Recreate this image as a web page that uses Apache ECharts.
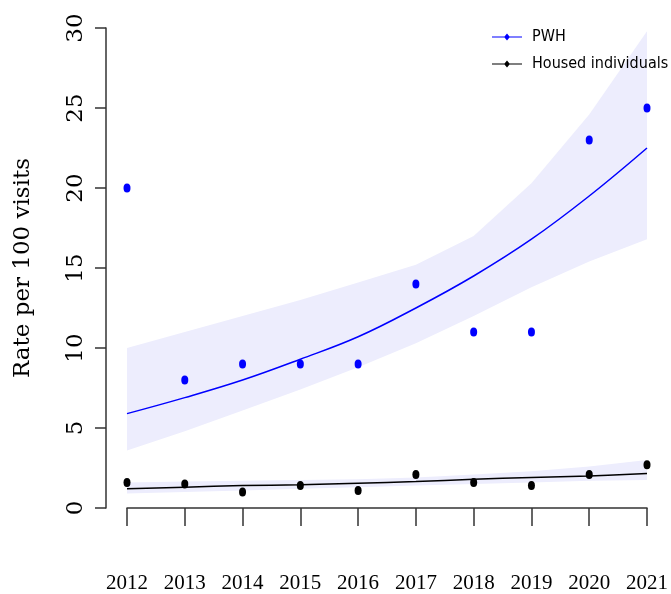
<!DOCTYPE html>
<html>
<head>
<meta charset="utf-8">
<script src="https://cdn.jsdelivr.net/npm/echarts@6/dist/echarts.min.js"></script>
<style>
  html, body { margin: 0; padding: 0; background: #fff; }
  #chart { width: 671px; height: 594px; }
</style>
</head>
<body>
<div id="chart"></div>
<script>
// Years on the x axis
const years = ['2012', '2013', '2014', '2015', '2016', '2017', '2018', '2019', '2020', '2021'];

// PWH: observed rates, fitted trend and its confidence band
const pwhObserved = [20, 8, 9, 9, 9, 14, 11, 11, 23, 25];
const pwhFit      = [5.9, 6.9, 8.0, 9.3, 10.7, 12.5, 14.5, 16.8, 19.5, 22.5];
const pwhLower    = [3.6, 4.8, 6.1, 7.4, 8.8, 10.3, 12.0, 13.8, 15.4, 16.8];
const pwhUpper    = [10.0, 11.0, 12.0, 13.0, 14.1, 15.2, 17.0, 20.3, 24.6, 29.8];

// Housed individuals: observed rates, fitted trend and its confidence band
const housedObserved = [1.6, 1.5, 1.0, 1.4, 1.1, 2.1, 1.6, 1.4, 2.1, 2.7];
const housedFit      = [1.2, 1.3, 1.4, 1.45, 1.55, 1.65, 1.8, 1.9, 2.0, 2.15];
const housedLower    = [0.9, 1.0, 1.1, 1.2, 1.3, 1.4, 1.5, 1.6, 1.7, 1.75];
const housedUpper    = [1.6, 1.65, 1.7, 1.75, 1.8, 1.9, 2.1, 2.3, 2.6, 3.0];

// Y axis range
const yMin = 0, yMax = 30, yStep = 5;

const BLUE = '#0000ff';
const BLACK = '#000000';
const BAND = '#ededfd';
const AXIS = '#333333';

// Legend key: a short line with a small diamond in the middle
const keyIcon = 'path://M0,4.4 L12.5,4.4 L15,1.5 L17.5,4.4 L30,4.4 L30,5.6 L17.5,5.6 L15,8.5 L12.5,5.6 L0,5.6 Z';

function bandSeries(id, lower, upper) {
  return [
    {
      type: 'line', name: id + '-lo', stack: id, data: lower,
      symbol: 'none', silent: true, z: 1,
      lineStyle: { opacity: 0 }
    },
    {
      type: 'line', name: id + '-span', stack: id,
      data: upper.map((u, i) => u - lower[i]),
      symbol: 'none', silent: true, z: 1,
      lineStyle: { opacity: 0 },
      areaStyle: { color: BAND, opacity: 1 }
    }
  ];
}

const chart = echarts.init(document.getElementById('chart'), null, { renderer: 'canvas' });

chart.setOption({
  animation: false,
  backgroundColor: '#ffffff',
  grid: { left: 127, right: 23, top: 28, bottom: 85, containLabel: false },
  legend: {
    left: 487, top: 22, orient: 'vertical',
    itemWidth: 30, itemHeight: 10, itemGap: 7,
    textStyle: {
      fontFamily: '"Liberation Sans Narrow", "DejaVu Sans Condensed", "Liberation Sans", sans-serif',
      fontSize: 16, color: '#000', lineHeight: 20, padding: [0, 0, 0, 5]
    },
    data: [
      { name: 'PWH', icon: keyIcon, itemStyle: { color: BLUE } },
      { name: 'Housed individuals', icon: keyIcon, itemStyle: { color: BLACK } }
    ]
  },
  xAxis: {
    type: 'category', data: years, boundaryGap: false, offset: 20,
    axisLine: { show: true, lineStyle: { color: AXIS, width: 1.5 } },
    axisTick: { show: true, length: 18, lineStyle: { color: AXIS, width: 1.5 } },
    axisLabel: {
      margin: 45, color: '#000', interval: 0,
      fontFamily: '"Liberation Serif", serif', fontSize: 21
    },
    splitLine: { show: false }
  },
  yAxis: {
    type: 'value', min: yMin, max: yMax, interval: yStep, offset: 21,
    name: 'Rate per 100 visits', nameLocation: 'middle', nameRotate: 90, nameGap: 71,
    nameTextStyle: { fontFamily: '"DejaVu Serif", serif', fontSize: 23, color: '#000' },
    axisLine: { show: true, lineStyle: { color: AXIS, width: 1.5 } },
    axisTick: { show: true, length: 11, lineStyle: { color: AXIS, width: 1.5 } },
    axisLabel: {
      rotate: 90, margin: 18, color: '#000',
      fontFamily: '"DejaVu Serif", serif', fontSize: 23
    },
    splitLine: { show: false }
  },
  series: [
    ...bandSeries('pwhBand', pwhLower, pwhUpper),
    ...bandSeries('housedBand', housedLower, housedUpper),
    {
      type: 'line', name: 'PWH', data: pwhFit, smooth: 0.4,
      symbol: 'none', z: 3,
      lineStyle: { color: BLUE, width: 1.5 }, itemStyle: { color: BLUE }
    },
    {
      type: 'line', name: 'Housed individuals', data: housedFit, smooth: 0.4,
      symbol: 'none', z: 3,
      lineStyle: { color: BLACK, width: 1.5 }, itemStyle: { color: BLACK }
    },
    {
      type: 'scatter', name: 'PWH', data: pwhObserved,
      symbol: 'circle', symbolSize: [7, 9], z: 4,
      itemStyle: { color: BLUE, opacity: 1 }
    },
    {
      type: 'scatter', name: 'Housed individuals', data: housedObserved,
      symbol: 'circle', symbolSize: [7, 9], z: 4,
      itemStyle: { color: BLACK, opacity: 1 }
    }
  ]
});
</script>
</body>
</html>
